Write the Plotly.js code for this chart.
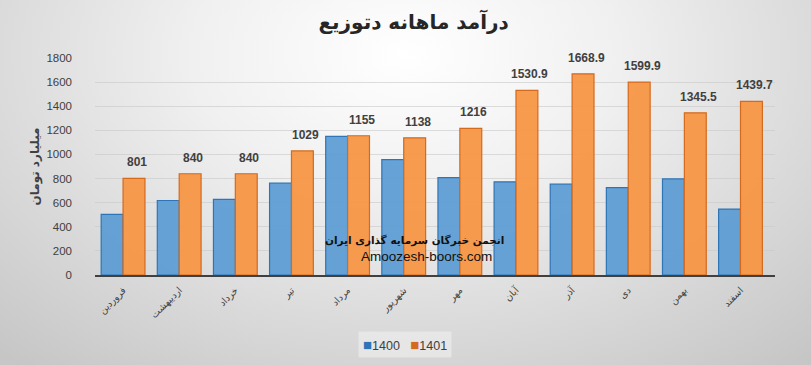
<!DOCTYPE html>
<html>
<head>
<meta charset="utf-8">
<script src="https://cdn.plot.ly/plotly-3.0.1.min.js"></script>
<style>
  html, body { margin: 0; padding: 0; }
  body {
    width: 811px; height: 365px; overflow: hidden;
    background: radial-gradient(ellipse 75% 110% at 50% 15%, #ffffff 0%, #f0f0f0 35%, #d9d9d9 70%, #c6c6c6 100%);
  }
  #chart { width: 811px; height: 365px; }
</style>
</head>
<body>
<div id="chart"></div>
<script>
const months = ['فروردین','اردیبهشت','خرداد','تیر','مرداد','شهریور','مهر','آبان','آذر','دی','بهمن','اسفند'];
const series1400 = [503, 618, 627, 762, 1150, 957, 808, 773, 753, 724, 797, 547];
const series1401 = [801, 840, 840, 1029, 1155, 1138, 1216, 1530.9, 1668.9, 1599.9, 1345.5, 1439.7];
const seriesNames = ['1400', '1401'];
const seriesColors = ['rgba(91,155,213,0.92)', 'rgba(247,150,70,0.95)'];
const seriesEdges = ['#2e75b6', '#d46a1e'];
const yTicks = [0, 200, 400, 600, 800, 1000, 1200, 1400, 1600, 1800];
const titleText = 'درآمد ماهانه دتوزیع';
const yTitleText = 'میلیارد تومان';
const watermark1 = 'انجمن خبرگان سرمایه گذاری ایران';
const watermark2 = 'Amoozesh-boors.com';

const traces = [series1400, series1401].map((vals, k) => ({
  type: 'bar', name: seriesNames[k], x: months, y: vals,
  marker: { color: seriesColors[k], line: { color: seriesEdges[k], width: 1.2 } },
  hoverinfo: 'x+y'
}));

const labelAnn = months.map((m, i) => ({
  x: m, y: series1401[i], xref: 'x', yref: 'y',
  text: String(series1401[i]), showarrow: false,
  xshift: 14, yshift: 16,
  font: { family: 'Liberation Sans, Arial, sans-serif', size: 12, color: '#404040', weight: 'bold' }
}));

const legendText = seriesNames.map((n, k) =>
  '<span style="color:' + seriesEdges[k] + '; font-size:15px">■</span>' + n).join('   ');

const layout = {
  width: 811, height: 365,
  paper_bgcolor: 'rgba(0,0,0,0)',
  plot_bgcolor: 'rgba(0,0,0,0)',
  margin: { l: 95, r: 36, t: 58, b: 90 },
  title: {
    text: '<b>' + titleText + '</b>',
    x: 0.51, xanchor: 'center', y: 0.94, yanchor: 'middle',
    font: { family: 'DejaVu Sans, sans-serif', size: 20, color: '#262626' }
  },
  barmode: 'group', bargap: 0.22, bargroupgap: 0,
  xaxis: {
    type: 'category', tickangle: -45,
    tickfont: { family: 'DejaVu Sans, sans-serif', size: 9.5, color: '#404040' },
    showline: true, linecolor: '#404040', linewidth: 2,
    showgrid: false, ticks: '', automargin: false, ticklabelstandoff: 4
  },
  yaxis: {
    range: [0, 1800], tickvals: yTicks, ticktext: yTicks.map(String),
    tickfont: { family: 'Liberation Sans, Arial, sans-serif', size: 11.5, color: '#404040' },
    showgrid: true, gridcolor: 'rgba(200,200,200,0.6)', gridwidth: 1,
    zeroline: false, showline: false, ticks: '', ticklen: 0,
    automargin: false, ticklabelstandoff: 22,
    title: {
      text: '<b>' + yTitleText + '</b>', standoff: 4,
      font: { family: 'DejaVu Sans, sans-serif', size: 12, color: '#404040' }
    }
  },
  showlegend: false,
  annotations: labelAnn.concat([
    { xref: 'paper', yref: 'paper', x: 0.47, y: 0.157, xanchor: 'center', yanchor: 'middle',
      text: '<b>' + watermark1 + '</b>', showarrow: false,
      font: { family: 'DejaVu Sans, sans-serif', size: 10.5, color: '#111' } },
    { xref: 'paper', yref: 'paper', x: 0.487, y: 0.083, xanchor: 'center', yanchor: 'middle',
      text: watermark2, showarrow: false,
      font: { family: 'Liberation Sans, Arial, sans-serif', size: 13.5, color: '#111' } },
    { xref: 'paper', yref: 'paper', x: 0.456, y: -0.318, xanchor: 'center', yanchor: 'middle',
      text: legendText, showarrow: false, bgcolor: 'rgba(240,240,240,0.6)', borderpad: 4,
      font: { family: 'Liberation Sans, Arial, sans-serif', size: 12.5, color: '#404040' } }
  ])
};

Plotly.newPlot('chart', traces, layout, { displayModeBar: false, staticPlot: true });
</script>
</body>
</html>
